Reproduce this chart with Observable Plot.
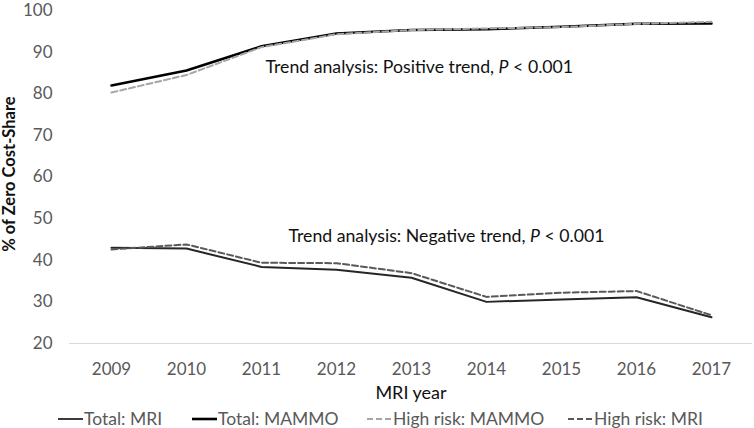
<!DOCTYPE html>
<html>
<head>
<meta charset="utf-8">
<script src="https://cdn.jsdelivr.net/npm/d3@7"></script>
<script src="https://cdn.jsdelivr.net/npm/@observablehq/plot@0.6"></script>
<style>
  html, body { margin: 0; padding: 0; background: #fff; }
  #wrap { width: 754px; font-family: Lato, sans-serif; }
  #wrap svg { overflow: visible; }
  #legend { position: relative; width: 754px; height: 28px; color: #595959; font-size: 17.5px; }
  .item { position: absolute; top: 8px; display: flex; align-items: center; white-space: nowrap; }
  .item svg { margin-right: 1px; }
</style>
</head>
<body>
<div id="wrap"></div>
<script>
const years = [2009, 2010, 2011, 2012, 2013, 2014, 2015, 2016, 2017];
const totalMRI   = [43.0, 42.8, 38.4, 37.7, 35.8, 30.0, 30.6, 31.1, 26.3];
const totalMAMMO = [82.0, 85.6, 91.4, 94.5, 95.3, 95.5, 96.1, 96.8, 96.9];
const highMAMMO  = [80.3, 84.5, 91.2, 94.3, 95.3, 95.7, 96.0, 96.8, 97.3];
const highMRI    = [42.6, 43.8, 39.4, 39.3, 36.9, 31.2, 32.2, 32.6, 26.8];
const yTicks = [20, 30, 40, 50, 60, 70, 80, 90, 100];
const seriesNames = ["Total: MRI", "Total: MAMMO", "High risk: MAMMO", "High risk: MRI"];
const annotations = [
  {text: "Trend analysis: Positive trend, P < 0.001", year: 2011, value: 86.3, dx: 4},
  {text: "Trend analysis: Negative trend, P < 0.001", year: 2011, value: 45.8, dx: 27}
];

const seriesValues = [totalMRI, totalMAMMO, highMAMMO, highMRI];
const styles = [
  {stroke: "#262626", strokeWidth: 2, legendWidth: 1.8, dash: null},
  {stroke: "#000000", strokeWidth: 2.5, legendWidth: 2.6, dash: null},
  {stroke: "#a6a6a6", strokeWidth: 2, legendWidth: 1.8, dash: "6,3"},
  {stroke: "#595959", strokeWidth: 2, legendWidth: 1.8, dash: "6,3"}
];
const rows = [];
seriesNames.forEach((s, i) => years.forEach((y, j) => rows.push({series: s, year: y, value: seriesValues[i][j]})));

const lineMarks = seriesNames.map((s, i) => Plot.lineY(rows.filter(r => r.series === s), {
  x: "year", y: "value", stroke: styles[i].stroke, strokeWidth: styles[i].strokeWidth,
  strokeDasharray: styles[i].dash || undefined
}));

const plot = Plot.plot({
  width: 754, height: 400,
  marginTop: 10, marginBottom: 57, marginLeft: 69, marginRight: 2,
  style: {fontFamily: "Lato, sans-serif", fontSize: "17px", color: "#595959", background: "#fff", overflow: "visible"},
  x: {type: "point", domain: years, padding: 0.5, label: null, tickSize: 0, tickPadding: 19, tickFormat: d => `${d}`},
  y: {domain: [20, 100], ticks: yTicks, label: null, tickSize: 0, tickPadding: 17},
  marks: [
    Plot.ruleY([20], {stroke: "#d9d9d9", strokeWidth: 1}),
    ...lineMarks,
    Plot.text(annotations, {x: "year", y: "value", text: "text", textAnchor: "start", fill: "#111", fontSize: 17.7}),
    Plot.text(["% of Zero Cost-Share"], {frameAnchor: "left", textAnchor: "middle", lineAnchor: "middle", dx: -60, dy: -3, rotate: -90, fontWeight: "bold", fill: "#111", fontSize: 16.5}),
    Plot.text(["MRI year"], {frameAnchor: "bottom", lineAnchor: "middle", dy: 50, fill: "#111", fontSize: 18})
  ]
});

// annotation offsets and italic P
d3.select(plot).selectAll("text").each(function() {
  const t = this.textContent;
  const a = annotations.find(a => a.text === t);
  if (a) {
    const el = d3.select(this);
    el.attr("x", +el.attr("x") + a.dx);
    const idx = t.indexOf("P <");
    el.text("");
    el.append("tspan").text(t.slice(0, idx));
    el.append("tspan").attr("font-style", "italic").text("P");
    el.append("tspan").text(t.slice(idx + 1));
  }
});

const wrap = document.getElementById("wrap");
wrap.appendChild(plot);

const legend = document.createElement("div");
legend.id = "legend";
const legendX = [58, 192, 367, 568];
seriesNames.forEach((s, i) => {
  const it = document.createElement("div");
  it.className = "item";
  it.style.left = legendX[i] + "px";
  const st = styles[i];
  it.innerHTML = `<svg width="25" height="10"><line x1="0" x2="25" y1="5" y2="5" stroke="${st.stroke}" stroke-width="${st.legendWidth}" ${st.dash ? `stroke-dasharray="${st.dash}"` : ""}/></svg><span>${s}</span>`;
  legend.appendChild(it);
});
wrap.appendChild(legend);
</script>
</body>
</html>
